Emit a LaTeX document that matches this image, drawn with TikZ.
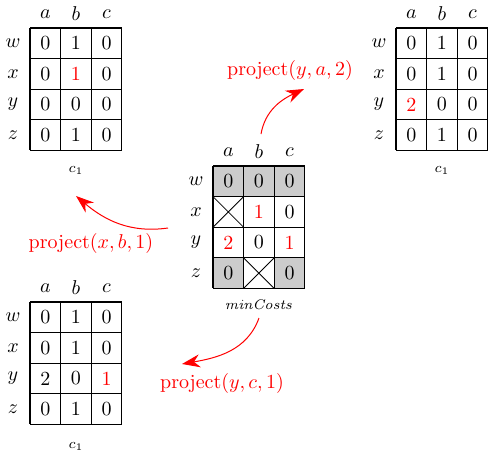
\documentclass[tikz,border=0pt]{standalone}
\usetikzlibrary{arrows.meta}
\definecolor{cellgray}{gray}{0.8}
\tikzset{
  gridline/.style={line width=0.6pt},
  redarrow/.style={red, line width=0.5pt, -{Stealth[length=9pt,width=6.5pt]}},
  redlabel/.style={text=red, font=\normalsize},
  caption/.style={font=\scriptsize},
}
% #1 name, #2 x, #3 y (image px of top-left corner)
\newcommand\tabframe[3]{%
  \begin{scope}[shift={(#2,-#3)}]
    \foreach \i in {0,...,3} \draw[gridline] (\i*30.6,0) -- (\i*30.6,-122.4);
    \foreach \j in {0,...,4} \draw[gridline] (0,-\j*30.6) -- (91.8,-\j*30.6);
    \node (#1-ha) at (15.3,14) {$a$};
    \node (#1-hb) at (45.9,14) {$b$};
    \node (#1-hc) at (76.5,14) {$c$};
    \node (#1-rw) at (-17,-15.3) {$w$};
    \node (#1-rx) at (-17,-45.9) {$x$};
    \node (#1-ry) at (-17,-76.5) {$y$};
    \node (#1-rz) at (-17,-107.1) {$z$};
  \end{scope}}
\newcommand\tabvals[4]{%
  \begin{scope}[shift={(#2,-#3)}]
    \foreach \c/\r/\v in {#4} \node (#1-\r-\c) at (15.3+30.6*\c,-15.3-30.6*\r) {\v};
  \end{scope}}
\begin{document}
\begin{tikzpicture}[x=0.5pt,y=0.5pt]
\useasboundingbox (0,0) rectangle (488,-451);
% top-left c1
\tabframe{A}{30}{28}
\tabvals{A}{30}{28}{0/0/0,1/0/1,2/0/0,0/1/0,1/1/{\color{red}1},2/1/0,0/2/0,1/2/0,2/2/0,0/3/0,1/3/1,2/3/0}
\node[caption] (Acap) at (76,-170) {$c_1$};
% top-right c1
\tabframe{B}{396}{28}
\tabvals{B}{396}{28}{0/0/0,1/0/1,2/0/0,0/1/0,1/1/1,2/1/0,0/2/{\color{red}2},1/2/0,2/2/0,0/3/0,1/3/1,2/3/0}
\node[caption] (Bcap) at (442,-170) {$c_1$};
% bottom-left c1
\tabframe{D}{30}{302}
\tabvals{D}{30}{302}{0/0/0,1/0/1,2/0/0,0/1/0,1/1/1,2/1/0,0/2/2,1/2/0,2/2/{\color{red}1},0/3/0,1/3/1,2/3/0}
\node[caption] (Dcap) at (76,-446) {$c_1$};
% centre minCosts
\begin{scope}[shift={(213,-166)}]
  \fill[cellgray] (0,0) rectangle (91.8,-30.6);
  \fill[cellgray] (0,-91.8) rectangle (30.6,-122.4);
  \fill[cellgray] (61.2,-91.8) rectangle (91.8,-122.4);
  \draw[line width=0.4pt] (0,-30.6) -- (30.6,-61.2) (0,-61.2) -- (30.6,-30.6);
  \draw[line width=0.4pt] (30.6,-91.8) -- (61.2,-122.4) (30.6,-122.4) -- (61.2,-91.8);
\end{scope}
\tabframe{C}{213}{166}
\tabvals{C}{213}{166}{0/0/0,1/0/0,2/0/0,1/1/{\color{red}1},2/1/0,0/2/{\color{red}2},1/2/0,2/2/{\color{red}1},0/3/0,2/3/0}
\node[caption] (Ccap) at (259,-305) {$\mathit{minCosts}$};
% labels and arrows
\node[redlabel] (L1) at (290,-70) {project$(y,a,2)$};
\node[redlabel] (L2) at (91,-243) {project$(x,b,1)$};
\node[redlabel] (L3) at (222,-383) {project$(y,c,1)$};
\coordinate (s1) at (261,-134);
\coordinate (e1) at (304,-89);
\coordinate (s2) at (168,-228);
\coordinate (e2) at (76,-196);
\coordinate (s3) at (259,-318);
\coordinate (e3) at (182,-364);
\draw[redarrow] (s1) to[out=80,in=205] (e1);
\draw[redarrow] (s2) to[out=188,in=-40] (e2);
\draw[redarrow] (s3) to[out=-110,in=10] (e3);
\end{tikzpicture}
\end{document}
